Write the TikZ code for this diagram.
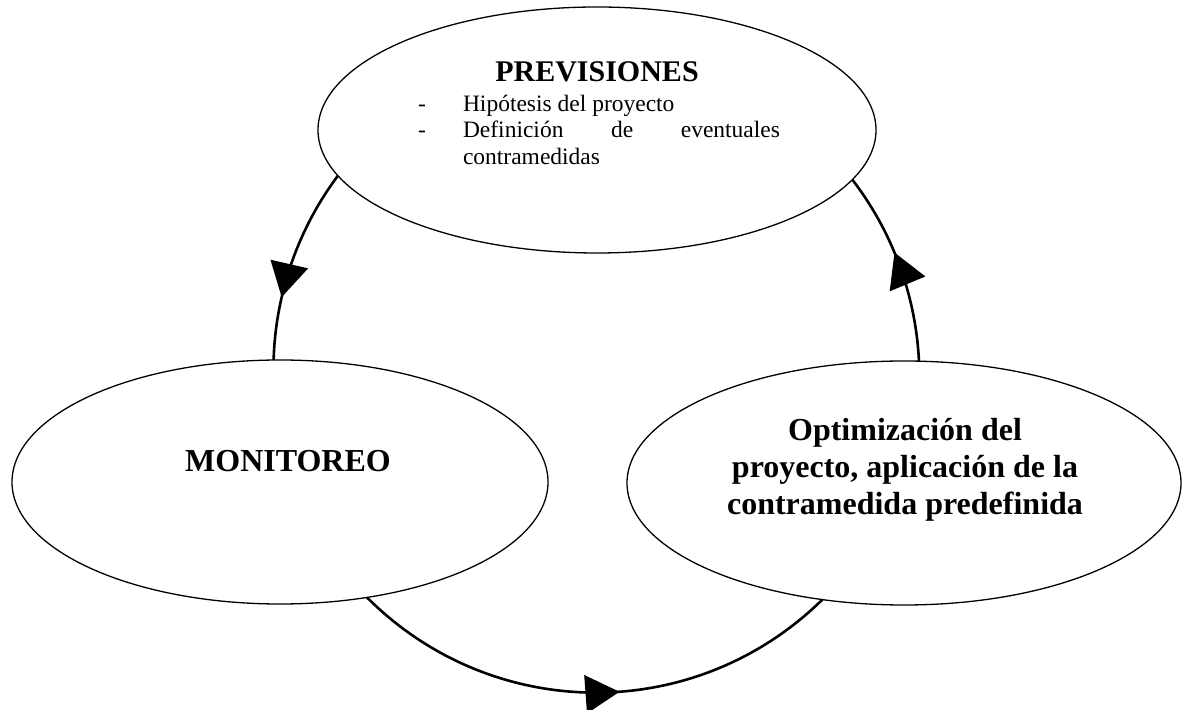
\documentclass[tikz,border=0pt]{standalone}
\usepackage{fontspec}
\setmainfont{Liberation Serif}
\usetikzlibrary{shapes.geometric,arrows.meta,decorations.markings}
\begin{document}
\begin{tikzpicture}[x=1pt,y=1pt,
  oval/.style={ellipse, draw, line width=1.3pt, inner sep=0pt, outer sep=0pt},
  txt/.style={inner sep=0pt, outer sep=0pt},
  head/.style={txt, font=\fontsize{30}{36}\selectfont\bfseries},
  label/.style={txt, font=\fontsize{32}{37}\selectfont\bfseries},
  body/.style={txt, font=\fontsize{23.5}{27}\selectfont},
  conn/.style={line width=2.6pt},
  midarrow/.style={postaction={decorate}, decoration={markings,
      mark=at position #1 with {\arrow{Triangle[length=34pt,width=38pt]}}}}]
\useasboundingbox (0,0) rectangle (1182,709);
% ellipses
\node[oval, minimum width=558pt, minimum height=246pt] (prev) at (597,579) {};
\node[oval, minimum width=536pt, minimum height=244pt] (moni) at (280,227) {};
\node[oval, minimum width=554pt, minimum height=244pt] (opti) at (904,226) {};
% texts
\node[head, anchor=base] (tprev) at (597,627) {PREVISIONES};
\node[body, anchor=base west] (d1) at (418,597) {-};
\node[body, anchor=base west] (h1) at (463,597) {Hipótesis del proyecto};
\node[body, anchor=base west] (d2) at (418,571) {-};
\node[body, anchor=base west] (h2) at (463,571) {\makebox[317pt][s]{Definición\hfill de\hfill eventuales}};
\node[body, anchor=base west] (h3) at (463,544) {contramedidas};
\node[label, anchor=base] (tmon) at (288,237) {MONITOREO};
\node[label, anchor=base] (o1) at (905,268) {Optimización del};
\node[label, anchor=base] (o2) at (905,231) {proyecto, aplicación de la};
\node[label, anchor=base] (o3) at (905,194) {contramedida predefinida};
% connectors
\draw[conn, midarrow=0.68] (prev.190.3) to[bend right=17.6, looseness=0.87] (moni.93.3);
\draw[conn, midarrow=0.55] (moni.307.3) to[bend right=44.75] (opti.235.1);
\draw[conn, midarrow=0.57] (opti.83.9) to[bend right=17.45, looseness=0.87] (prev.349.2);
\end{tikzpicture}
\end{document}
